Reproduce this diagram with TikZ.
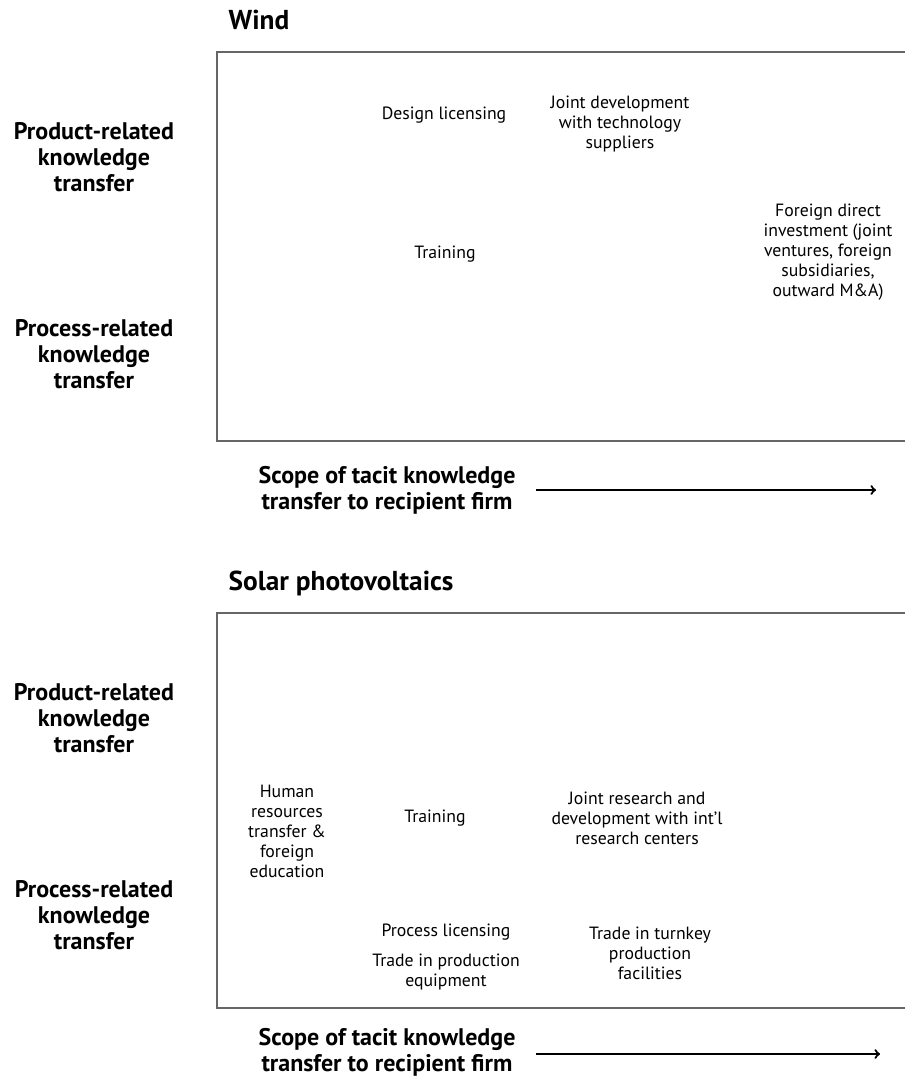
\documentclass[tikz,border=0pt]{standalone}
\usepackage{fontspec}
\setmainfont{PT Sans}
\usepackage{tikz}
\usetikzlibrary{arrows,positioning}
\tikzset{>=to,
         panel/.style={draw=black!60, line width=1.3pt},
         paneltitle/.style={anchor=base west, font=\fontsize{20.5}{24}\selectfont\bfseries},
         side/.style={align=center, font=\fontsize{18}{19.5}\selectfont\bfseries},
         item/.style={align=center, font=\fontsize{13.3}{15}\selectfont},
         scope/.style={align=center, font=\fontsize{18}{19.5}\selectfont\bfseries},
         axis/.style={->, line width=1.6pt}}

\begin{document}
\begin{tikzpicture}[x=0.75pt, y=-0.75pt]
	\useasboundingbox (0,0) rectangle (905,1081);

	% wind
	\node[paneltitle] (wind) at (224,30) {Wind};
	\draw[panel] (905,52) -| (217,441) -- (905,441);
	\node[side] (prodW) at (94,157) {Product-related\\knowledge\\transfer};
	\node[side] (procW) at (94,354) {Process-related\\knowledge\\transfer};
	\node[item] (design) at (444,115) {Design licensing};
	\node[item] (jointdev) at (620,124) {Joint development\\with technology\\suppliers};
	\node[item] (trainW) at (445,254) {Training};
	\node[item] (fdi) at (828,252) {Foreign direct\\investment (joint\\ventures, foreign\\subsidiaries,\\outward M\&A)};
	\node[scope] (scopeW) at (387,490) {Scope of tacit knowledge\\transfer to recipient firm};
	\coordinate (arrW-s) at (536,490);
	\coordinate (arrW-e) at (876,490);
	\draw[axis] (arrW-s) -- (arrW-e);

	% solar pv
	\node[paneltitle] (solar) at (224,590) {Solar photovoltaics};
	\draw[panel] (905,613) -| (217,1008) -- (905,1008);
	\node[side] (prodS) at (94,718) {Product-related\\knowledge\\transfer};
	\node[side] (procS) at (94,915) {Process-related\\knowledge\\transfer};
	\node[item] (human) at (287,831) {Human\\resources\\transfer \&\\foreign\\education};
	\node[item] (trainS) at (435,818) {Training};
	\node[item] (jointres) at (637,818) {Joint research and\\development with int’l\\research centers};
	\node[item] (proclic) at (446,932) {Process licensing};
	\node[item] (equip) at (446,972) {Trade in production\\equipment};
	\node[item] (turnkey) at (650,953) {Trade in turnkey\\production\\facilities};
	\node[scope] (scopeS) at (387,1052) {Scope of tacit knowledge\\transfer to recipient firm};
	\coordinate (arrS-s) at (536,1054);
	\coordinate (arrS-e) at (880,1054);
	\draw[axis] (arrS-s) -- (arrS-e);
\end{tikzpicture}
\end{document}
